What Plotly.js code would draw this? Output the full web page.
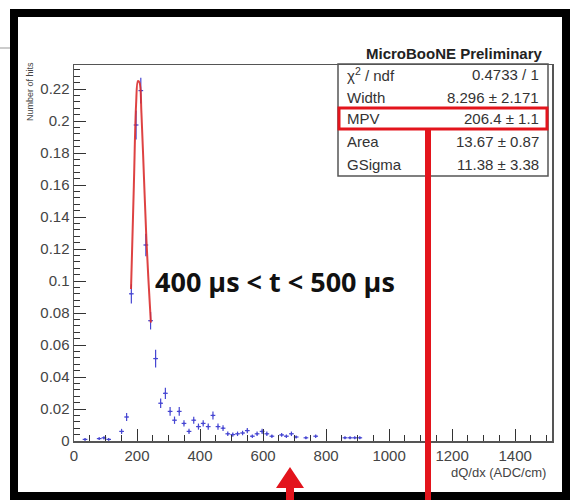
<!DOCTYPE html>
<html><head><meta charset="utf-8">
<script src="https://cdn.plot.ly/plotly-3.0.1.min.js"></script>
<style>html,body{margin:0;padding:0;background:#fff}#chart{width:571px;height:500px}</style>
</head><body><div id="chart"></div>
<script>
// ---- data ----
const binCenters = [35, 80, 95, 110, 151, 167, 182, 197, 212, 228, 243, 259, 275, 290, 305, 319, 334, 349, 365, 380, 395, 410, 426, 441, 457, 473, 488, 504, 519, 535, 550, 566, 581, 597, 612, 628, 659, 674, 690, 705, 736, 767, 860, 876, 891, 907];
const hitFraction = [0.001, 0.0015, 0.002, 0.001, 0.006, 0.015, 0.092, 0.1975, 0.219, 0.1225, 0.0752, 0.0515, 0.0236, 0.0298, 0.0185, 0.013, 0.0185, 0.011, 0.006, 0.013, 0.009, 0.011, 0.009, 0.016, 0.009, 0.008, 0.0045, 0.004, 0.0045, 0.005, 0.0065, 0.003, 0.0045, 0.006, 0.0045, 0.003, 0.0038, 0.003, 0.0045, 0.0025, 0.002, 0.003, 0.002, 0.002, 0.002, 0.002];
const hitError = [0.0008, 0.0009, 0.001, 0.0008, 0.0016, 0.0025, 0.006, 0.009, 0.008, 0.007, 0.0055, 0.0055, 0.003, 0.0035, 0.0027, 0.0023, 0.0027, 0.002, 0.0016, 0.0022, 0.0019, 0.002, 0.0019, 0.0025, 0.0019, 0.0018, 0.0014, 0.0013, 0.0014, 0.0014, 0.0016, 0.0011, 0.0014, 0.0016, 0.0014, 0.0011, 0.0012, 0.0011, 0.0014, 0.001, 0.0009, 0.0011, 0.0009, 0.0009, 0.0009, 0.0009];
const binHalfWidth = 7.5;
const fitX = [181, 190, 197, 203, 208, 214, 222, 230, 237, 244];
const fitY = [0.095, 0.16, 0.21, 0.225, 0.224, 0.205, 0.165, 0.125, 0.098, 0.074];
const xTickValues = [0, 200, 400, 600, 800, 1000, 1200, 1400];
const yTickValues = [0, 0.02, 0.04, 0.06, 0.08, 0.1, 0.12, 0.14, 0.16, 0.18, 0.2, 0.22];
const statNames = ['χ<sup>2</sup> / ndf', 'Width', 'MPV', 'Area', 'GSigma'];
const statValues = ['0.4733 / 1', '8.296 ± 2.171', '206.4 ± 1.1', '13.67 ± 0.87', '11.38 ± 3.38'];
const chartTitle = 'MicroBooNE Preliminary';
const xTitle = 'dQ/dx (ADC/cm)';
const yTitle = 'Number of hits';
const timeLabel = '400 μs &lt; t &lt; 500 μs';

// ---- layout geometry (pixels -> paper) ----
const L = 74, R = 552, T = 65, B = 441;
const px = x => (x - L) / (R - L);
const py = y => (B - y) / (B - T);
const RED = '#e3141c';
const FONT = 'Liberation Sans, Arial, sans-serif';

const traces = [
  {
    x: binCenters, y: hitFraction, type: 'scatter', mode: 'markers',
    marker: {color: '#4646d2', size: 2},
    error_y: {type: 'data', array: hitError, color: '#4646d2', thickness: 1.2, width: 0},
    error_x: {type: 'constant', value: binHalfWidth, color: '#4646d2', thickness: 1.2, width: 0},
    hoverinfo: 'x+y'
  },
  {
    x: fitX, y: fitY, type: 'scatter', mode: 'lines',
    line: {color: 'rgba(218,45,45,0.9)', width: 2, shape: 'spline'},
    hoverinfo: 'x+y'
  }
];

const statRowsY = [75, 97, 119, 141.5, 164];
const annotations = [];
statNames.forEach((n, i) => {
  annotations.push({xref: 'paper', yref: 'paper', x: px(345), y: py(statRowsY[i]), xanchor: 'left', yanchor: 'middle',
    text: n, showarrow: false, font: {family: FONT, size: 15, color: '#333'}});
  annotations.push({xref: 'paper', yref: 'paper', x: px(541), y: py(statRowsY[i]), xanchor: 'right', yanchor: 'middle',
    text: statValues[i], showarrow: false, font: {family: FONT, size: 15, color: '#333'}});
});
annotations.push({xref: 'paper', yref: 'paper', x: px(545), y: py(53), xanchor: 'right', yanchor: 'middle',
  text: '<b>' + chartTitle + '</b>', showarrow: false, font: {family: FONT, size: 15, color: '#222'}});
annotations.push({xref: 'paper', yref: 'paper', x: px(548), y: py(473), xanchor: 'right', yanchor: 'middle',
  text: xTitle, showarrow: false, font: {family: FONT, size: 13, color: '#444'}});
annotations.push({xref: 'paper', yref: 'paper', x: px(30), y: py(92), xanchor: 'center', yanchor: 'middle', textangle: -90,
  text: yTitle, showarrow: false, font: {family: FONT, size: 9, color: '#444'}});
annotations.push({xref: 'paper', yref: 'paper', x: px(275), y: py(281), xanchor: 'center', yanchor: 'middle',
  text: '<b>' + timeLabel + '</b>', showarrow: false, font: {family: 'Open Sans, sans-serif', size: 27, color: '#111'}});

const shapes = [
  // stats box
  {type: 'rect', xref: 'paper', yref: 'paper', x0: px(338), x1: px(548), y0: py(64), y1: py(176),
   line: {color: '#555', width: 1.5}, fillcolor: 'rgba(0,0,0,0)', layer: 'above'},
  // outer black frame
  {type: 'rect', xref: 'paper', yref: 'paper', x0: px(14), x1: px(566), y0: py(13), y1: py(496),
   line: {color: '#000', width: 8}, fillcolor: 'rgba(0,0,0,0)', layer: 'above'},
  // grey stub line outside frame
  {type: 'line', xref: 'paper', yref: 'paper', x0: px(0), x1: px(10), y0: py(48), y1: py(48),
   line: {color: '#bbb', width: 1.5}, layer: 'above'},
  // red highlight on MPV
  {type: 'rect', xref: 'paper', yref: 'paper', x0: px(339), x1: px(547), y0: py(108), y1: py(129),
   line: {color: RED, width: 3}, fillcolor: 'rgba(0,0,0,0)', layer: 'above'},
  {type: 'line', xref: 'paper', yref: 'paper', x0: px(428), x1: px(428), y0: py(129), y1: py(500),
   line: {color: RED, width: 6}, layer: 'above'},
  // red arrow
  {type: 'path', xref: 'paper', yref: 'paper', layer: 'above',
   path: `M ${px(290)} ${py(467)} L ${px(304)} ${py(488)} L ${px(294)} ${py(488)} L ${px(294)} ${py(500)} L ${px(286)} ${py(500)} L ${px(286)} ${py(488)} L ${px(276)} ${py(488)} Z`,
   fillcolor: RED, line: {color: RED, width: 0}}
];

const layout = {
  width: 571, height: 500,
  margin: {l: L, r: 571 - R, t: T, b: 500 - B, pad: 0},
  paper_bgcolor: '#fff', plot_bgcolor: '#fff',
  showlegend: false,
  xaxis: {range: [0, 1517], tickvals: xTickValues, ticks: 'inside', ticklen: 12, tickwidth: 1, tickcolor: '#333',
    minor: {dtick: 50, ticks: 'inside', ticklen: 6, tickcolor: '#333', tickwidth: 1},
    showgrid: false, zeroline: false, showline: true, linecolor: '#555', linewidth: 1.5, mirror: true,
    tickfont: {family: FONT, size: 15, color: '#444'}},
  yaxis: {range: [0, 0.235], tickvals: yTickValues, ticks: 'inside', ticklen: 12, tickwidth: 1, tickcolor: '#333',
    minor: {dtick: 0.004, ticks: 'inside', ticklen: 6, tickcolor: '#333', tickwidth: 1},
    showgrid: false, zeroline: false, showline: true, linecolor: '#555', linewidth: 1.5, mirror: true,
    tickfont: {family: FONT, size: 15, color: '#444'}},
  annotations: annotations,
  shapes: shapes
};

Plotly.newPlot('chart', traces, layout, {displayModeBar: false, staticPlot: true});
</script>
</body></html>
